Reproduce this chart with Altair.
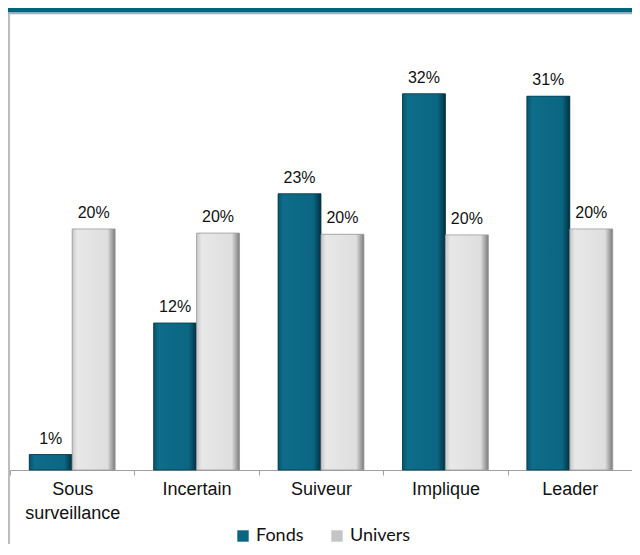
import altair as alt
import pandas as pd

categories = ["Sous surveillance", "Incertain", "Suiveur", "Implique", "Leader"]
series = ["Fonds", "Univers"]
fonds = [1.3, 12.35, 23.2, 31.6, 31.4]
univers = [20.25, 19.9, 19.8, 19.75, 20.25]

rows = []
for c, f, u in zip(categories, fonds, univers):
    rows.append({"cat": c, "serie": "Fonds", "val": f, "lab": f"{round(f)}%"})
    rows.append({"cat": c, "serie": "Univers", "val": u, "lab": f"{round(u)}%"})
df = pd.DataFrame(rows)

W, H = 622, 450
TEAL = "#0b6682"

x = alt.X(
    "cat:N",
    sort=categories,
    scale=alt.Scale(paddingInner=0, paddingOuter=0),
    axis=alt.Axis(
        title=None,
        labelAngle=0,
        tickBand="extent",
        tickSize=5,
        tickColor="#a0a0a0",
        domainColor="#a0a0a0",
        labelFont="Liberation Sans",
        labelFontSize=18,
        labelColor="#111111",
        labelPadding=5,
        labelLineHeight=24,
        labelExpr="datum.value == 'Sous surveillance' ? ['Sous', 'surveillance'] : datum.value",
    ),
)
xo = alt.XOffset("serie:N", sort=series, scale=alt.Scale(paddingOuter=0.449, paddingInner=0))
y = alt.Y("val:Q", scale=alt.Scale(domain=[0, 37.8]), axis=None)

base = alt.Chart(df)

bars = base.mark_bar().encode(
    x=x, xOffset=xo, y=y,
    color=alt.Color(
        "serie:N",
        sort=series,
        scale=alt.Scale(domain=series, range=[TEAL, "#c4c4c4"]),
        legend=alt.Legend(
            title=None,
            orient="none",
            legendX=224,
            legendY=507,
            direction="horizontal",
            symbolType="square",
            symbolSize=130,
            symbolOpacity=1,
            symbolStrokeWidth=0,
            labelFont="Lato",
            labelFontSize=18,
            labelColor="#111111",
            labelOffset=4,
            columnPadding=24,
            padding=0,
        ),
    ),
)

teal_grad = alt.Gradient(
    gradient="linear", x1=0, x2=1, y1=0, y2=0,
    stops=[
        alt.GradientStop(offset=0, color="#08536b"),
        alt.GradientStop(offset=0.12, color="#0e6d8a"),
        alt.GradientStop(offset=0.82, color="#0b6682"),
        alt.GradientStop(offset=1, color="#04303f"),
    ],
)
gray_grad = alt.Gradient(
    gradient="linear", x1=0, x2=1, y1=0, y2=0,
    stops=[
        alt.GradientStop(offset=0, color="#c8c8c8"),
        alt.GradientStop(offset=0.12, color="#e8e8e8"),
        alt.GradientStop(offset=0.82, color="#dedede"),
        alt.GradientStop(offset=1, color="#7c7c7c"),
    ],
)

fonds_bars = base.transform_filter(alt.datum.serie == "Fonds").mark_bar(
    color=teal_grad, stroke="#05394a", strokeWidth=0.8
).encode(x=x, xOffset=xo, y=y)
univ_bars = base.transform_filter(alt.datum.serie == "Univers").mark_bar(
    color=gray_grad, stroke="#9a9a9a", strokeWidth=0.8
).encode(x=x, xOffset=xo, y=y)

labels = base.mark_text(
    baseline="bottom", dy=-8, font="Liberation Sans", fontSize=16, color="#111111"
).encode(x=x, xOffset=xo, y=y, text="lab:N")

deco = alt.Chart(pd.DataFrame({"a": [0]}))
band = deco.mark_rect(color="#006680").encode(
    x=alt.value(-2), x2=alt.value(W), y=alt.value(-12), y2=alt.value(-7.5)
)
band_line = deco.mark_rule(color="#9fb0b6", strokeWidth=1.5).encode(
    x=alt.value(-2), x2=alt.value(W), y=alt.value(-6.5)
)
left_border = deco.mark_rule(color="#bdbdbd", strokeWidth=2).encode(
    x=alt.value(-1), y=alt.value(-6), y2=alt.value(H + 75)
)

chart = (
    alt.layer(bars, fonds_bars, univ_bars, labels, band, band_line, left_border)
    .properties(
        width=W,
        height=H,
        autosize=alt.AutoSizeParams(type="none"),
        padding={"left": 2, "top": 12, "right": 0, "bottom": 74},
    )
    .configure_view(stroke=None)
)

chart.save("out.html", embed_options={"renderer": "svg", "actions": False})
